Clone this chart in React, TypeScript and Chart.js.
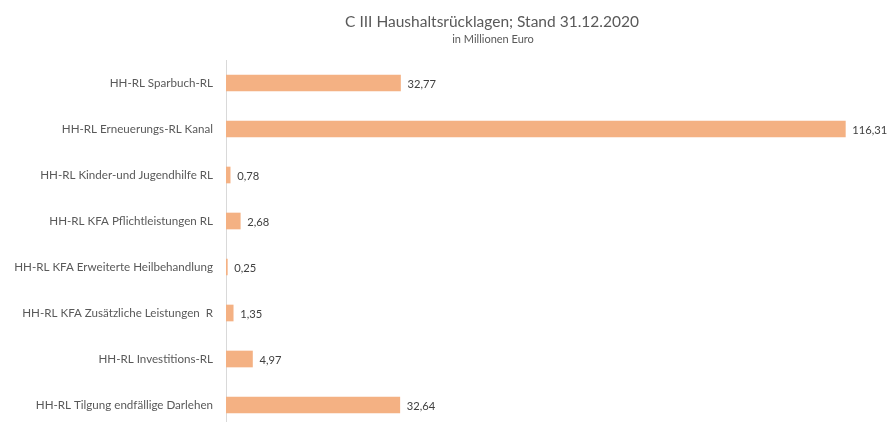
import React, { useEffect, useRef } from "react";
import { Chart, registerables } from "chart.js";

Chart.register(...registerables);

const categories = [
  "HH-RL Sparbuch-RL",
  "HH-RL Erneuerungs-RL Kanal",
  "HH-RL Kinder-und Jugendhilfe RL",
  "HH-RL KFA Pflichtleistungen RL",
  "HH-RL KFA Erweiterte Heilbehandlung",
  "HH-RL KFA Zusätzliche Leistungen  R",
  "HH-RL Investitions-RL",
  "HH-RL Tilgung endfällige Darlehen",
];
const values = [32.77, 116.31, 0.78, 2.68, 0.25, 1.35, 4.97, 32.64];
const titleText = "C III Haushaltsrücklagen; Stand 31.12.2020";
const subtitleText = "in Millionen Euro";

const FONT = "Lato, 'Liberation Sans', sans-serif";

const fmt = (v: number) => v.toFixed(2).replace(".", ",");

export default function App() {
  const ref = useRef<HTMLCanvasElement | null>(null);
  useEffect(() => {
    if (!ref.current) return;
    const textPlugin = {
      id: "texts",
      afterDatasetsDraw(chart: any) {
        const ctx = chart.ctx;
        ctx.save();
        ctx.fillStyle = "#595959";
        ctx.textAlign = "center";
        ctx.textBaseline = "alphabetic";
        ctx.font = `15.5px ${FONT}`;
        ctx.fillText(titleText, 492, 27);
        ctx.font = `11px ${FONT}`;
        ctx.fillText(subtitleText, 493, 43);
        const meta = chart.getDatasetMeta(0);
        ctx.fillStyle = "#404040";
        ctx.textAlign = "left";
        ctx.textBaseline = "middle";
        ctx.font = `11.2px ${FONT}`;
        meta.data.forEach((bar: any, i: number) => {
          ctx.fillText(fmt(values[i]), bar.x + 7, bar.y + 1);
        });
        ctx.restore();
      },
    };
    const chart = new Chart(ref.current, {
      type: "bar",
      data: {
        labels: categories,
        datasets: [
          {
            data: values,
            backgroundColor: "#F4B183",
            barThickness: 16,
          },
        ],
      },
      options: {
        indexAxis: "y",
        animation: false,
        responsive: false,
        layout: { padding: { top: 60, bottom: 2, right: 22, left: 0 } },
        plugins: { legend: { display: false }, tooltip: { enabled: false } },
        scales: {
          x: { display: false, min: 0, max: 120 },
          y: {
            grid: { display: false, drawTicks: false },
            border: { display: true, color: "#D9D9D9", width: 1 },
            ticks: {
              color: "#595959",
              font: { family: FONT, size: 11.6 },
              padding: 13,
            },
            afterFit(scale: any) {
              scale.width = 226;
              scale.paddingTop = 0;
              scale.paddingBottom = 0;
            },
          },
        },
      },
      plugins: [textPlugin],
    });
    return () => chart.destroy();
  }, []);
  return (
    <div style={{ position: "fixed", left: 0, top: 0, width: 887, height: 422, overflow: "hidden", background: "#fff" }}>
      <canvas ref={ref} width={887} height={430} style={{ display: "block" }} />
    </div>
  );
}
